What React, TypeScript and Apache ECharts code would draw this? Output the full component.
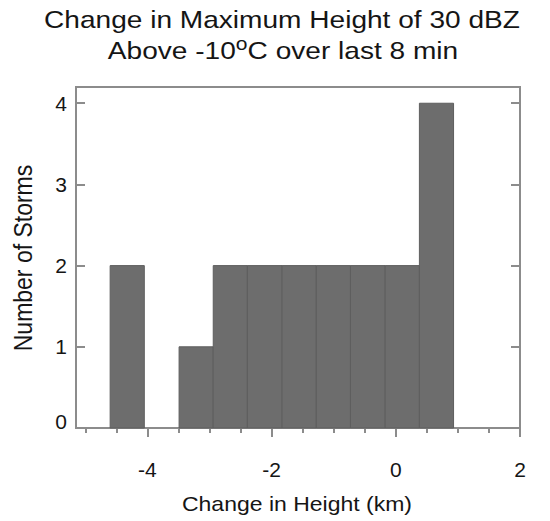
import React, { useEffect, useRef } from "react";
import * as echarts from "echarts";

const binEdges = [-4.6, -4.05, -3.49, -2.94, -2.39, -1.83, -1.28, -0.73, -0.17, 0.38, 0.93];
const counts = [2, 0, 1, 2, 2, 2, 2, 2, 2, 4];
const xMajorTicks = [-4, -2, 0, 2];
const xMinorTicks = [-5, -4.5, -3.5, -3, -2.5, -1.5, -1, -0.5, 0.5, 1, 1.5];
const yTicks = [0, 1, 2, 3, 4];
const titleLine1 = "Change in Maximum Height of 30 dBZ";
const titleLine2 = "Above -10{sup|o}C over last 8 min";
const xName = "Change in Height (km)";
const yName = "Number of Storms";

const FONT = "'Liberation Sans', Arial, Helvetica, sans-serif";
const AXIS_COLOR = "#8c8c8c";
const TEXT_COLOR = "#151515";

export default function App() {
  const ref = useRef<HTMLDivElement>(null);
  useEffect(() => {
    document.body.style.margin = "0";
    if (!ref.current) return;
    const chart = echarts.init(ref.current, null, { renderer: "svg" });
    const data = counts.map((c, i) => [binEdges[i], binEdges[i + 1], c]);
    const axisLineStyle = { color: AXIS_COLOR, width: 2 };
    chart.setOption({
      animation: false,
      backgroundColor: "#ffffff",
      grid: {
        left: 76,
        right: 30,
        top: 87,
        bottom: 93,
        show: true,
        borderColor: AXIS_COLOR,
        borderWidth: 2,
        backgroundColor: "transparent",
      },
      xAxis: [
        {
          type: "value",
          min: -5.15,
          max: 2,
          position: "bottom",
          axisLine: { show: true, onZero: false, lineStyle: axisLineStyle },
          axisTick: { show: true, inside: false, length: 9, customValues: xMajorTicks, lineStyle: axisLineStyle },
          axisLabel: {
            show: true,
            customValues: xMajorTicks,
            margin: 31,
            fontSize: 21,
            color: TEXT_COLOR,
            fontFamily: FONT,
          },
          splitLine: { show: false },
        },
        {
          type: "value",
          min: -5.15,
          max: 2,
          position: "bottom",
          axisLine: { show: false },
          axisTick: { show: true, inside: false, length: 5, customValues: xMinorTicks, lineStyle: axisLineStyle },
          axisLabel: { show: false },
          splitLine: { show: false },
        },
      ],
      yAxis: [
        {
          type: "value",
          min: 0,
          max: 4.2,
          position: "left",
          axisLine: { show: true, onZero: false, lineStyle: axisLineStyle },
          axisTick: { show: true, inside: true, length: 9, customValues: yTicks, lineStyle: axisLineStyle },
          axisLabel: {
            show: true,
            customValues: yTicks,
            margin: 9,
            fontSize: 21,
            color: TEXT_COLOR,
            fontFamily: FONT,
            formatter: (v: number) => (v === 0 ? "{low|0}" : String(v)),
            rich: {
              low: { fontSize: 21, color: TEXT_COLOR, fontFamily: FONT, padding: [0, 0, 14, 0] },
            },
          },
          splitLine: { show: false },
        },
        {
          type: "value",
          min: 0,
          max: 4.2,
          position: "right",
          axisLine: { show: true, onZero: false, lineStyle: axisLineStyle },
          axisTick: { show: true, inside: true, length: 9, customValues: yTicks, lineStyle: axisLineStyle },
          axisLabel: { show: false },
          splitLine: { show: false },
        },
      ],
      series: [
        {
          type: "custom",
          xAxisIndex: 0,
          yAxisIndex: 0,
          data,
          renderItem: (params: any, api: any) => {
            const x0 = api.value(0);
            const x1 = api.value(1);
            const c = api.value(2);
            if (!c) return null;
            const p0 = api.coord([x0, c]);
            const p1 = api.coord([x1, 0]);
            return {
              type: "rect",
              shape: { x: p0[0], y: p0[1], width: p1[0] - p0[0], height: p1[1] - p0[1] },
              style: { fill: "#6d6d6d", stroke: "#5e5e5e", lineWidth: 1 },
            };
          },
        },
      ],
      graphic: [
        {
          type: "text",
          x: 282,
          y: 20,
          scaleX: 1.17,
          style: {
            text: titleLine1,
            fontSize: 24,
            fontFamily: FONT,
            fill: TEXT_COLOR,
            textAlign: "center",
            textVerticalAlign: "middle",
          },
        },
        {
          type: "text",
          x: 283,
          y: 51,
          scaleX: 1.17,
          style: {
            text: titleLine2,
            fontSize: 24,
            lineHeight: 32,
            fontFamily: FONT,
            fill: TEXT_COLOR,
            textAlign: "center",
            textVerticalAlign: "middle",
            rich: {
              sup: { fontSize: 18, fontFamily: FONT, fill: TEXT_COLOR, verticalAlign: "top", lineHeight: 12 },
            },
          },
        },
        {
          type: "text",
          x: 297,
          y: 504,
          scaleX: 1.15,
          style: {
            text: xName,
            fontSize: 20,
            fontFamily: FONT,
            fill: TEXT_COLOR,
            textAlign: "center",
            textVerticalAlign: "middle",
          },
        },
        {
          type: "text",
          x: 23,
          y: 258,
          rotation: Math.PI / 2,
          scaleY: 1.1,
          style: {
            text: yName,
            fontSize: 23,
            fontFamily: FONT,
            fill: TEXT_COLOR,
            textAlign: "center",
            textVerticalAlign: "middle",
          },
        },
      ],
    });
    return () => chart.dispose();
  }, []);
  return <div ref={ref} style={{ width: 550, height: 521 }} />;
}
